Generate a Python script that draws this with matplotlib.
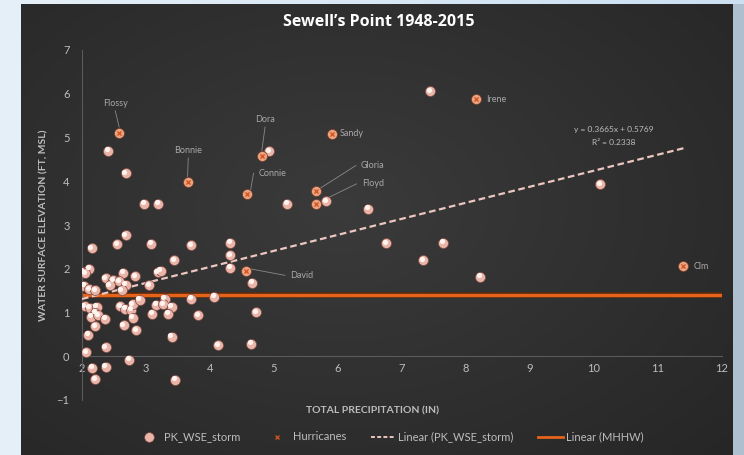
import numpy as np
import matplotlib
matplotlib.use('Agg')
import matplotlib.pyplot as plt
import matplotlib.transforms as mtransforms
from matplotlib.lines import Line2D
from matplotlib.patches import Rectangle

# ─── DATA ──────────────────────────────────────────────────────────────────────
storm_precip = [2.68, 2.15, 2.55, 3.08, 3.70, 3.44, 2.00, 2.11, 2.05, 2.64,
                2.83, 2.37, 2.49, 2.58, 2.68, 2.43, 2.62, 3.18, 3.23, 3.05,
                2.03, 2.11, 2.20, 2.04, 2.12, 2.23, 2.20, 2.14, 2.25, 2.36,
                2.21, 2.60, 2.67, 2.77, 2.79, 2.90, 2.79, 2.65, 2.84, 3.16,
                3.29, 3.27, 3.40, 3.10, 3.34, 3.71, 3.82, 3.40, 2.10, 2.37,
                2.06, 2.74, 2.16, 2.37, 2.20, 3.45, 4.32, 4.32, 4.31, 4.66,
                4.06, 4.72, 4.13, 4.64, 2.41, 2.68, 2.97, 3.19, 4.92, 7.44,
                5.81, 5.20, 6.47, 6.75, 7.64, 7.33, 10.09, 8.22]
storm_wse = [2.77, 2.47, 2.56, 2.57, 2.54, 2.19, 1.93, 2.00, 1.90, 1.91,
             1.83, 1.78, 1.74, 1.71, 1.64, 1.63, 1.51, 1.92, 1.96, 1.63,
             1.61, 1.53, 1.51, 1.15, 1.11, 1.13, 1.00, 0.90, 0.94, 0.86,
             0.69, 1.15, 1.09, 1.06, 1.19, 1.29, 0.88, 0.71, 0.60, 1.18,
             1.32, 1.19, 1.13, 0.97, 0.97, 1.32, 0.94, 0.45, 0.49, 0.21,
             0.09, -0.08, -0.26, -0.24, -0.53, -0.54, 2.60, 2.31, 2.02, 1.68,
             1.36, 1.01, 0.25, 0.29, 4.70, 4.19, 3.49, 3.49, 4.69, 6.06,
             3.55, 3.49, 3.37, 2.58, 2.60, 2.20, 3.93, 1.82]

hurr_names = ["Flossy", "Bonnie", "Dora", "Connie", "Sandy", "Gloria",
              "Floyd", "Irene", "Clm", "David"]
hurr_precip = [2.58, 3.65, 4.81, 4.58, 5.90, 5.65, 5.65, 8.16, 11.39, 4.57]
hurr_wse = [5.11, 3.98, 4.57, 3.71, 5.09, 3.77, 3.47, 5.88, 2.06, 1.95]
# label anchor (x, y) and alignment for each hurricane
label_x = [2.52, 3.66, 4.86, 4.76, 6.03, 6.36, 6.37, 8.31, 11.55, 5.25]
label_y = [5.78, 4.70, 5.41, 4.18, 5.09, 4.36, 3.94, 5.87, 2.06, 1.85]
label_ha = ["center", "center", "center", "left", "left", "left", "left",
            "left", "left", "left"]
leader = [True, True, True, True, False, True, True, False, False, True]

trend_slope, trend_icpt = 0.3665, 0.5769
trend_r2 = 0.2338
trend_x = [2.0, 11.4]
mhhw = 1.40
mhhw_x = [2.0, 12.0]

# ─── STYLE ─────────────────────────────────────────────────────────────────────
FONT = ['Lato', 'DejaVu Sans']
TXT = '#bdbdbd'
PINK = '#eab4a8'
ORANGE = '#e5641a'

fig = plt.figure(figsize=(7.44, 4.55), dpi=100)

# background: light blue frame + dark vignetted panel
bg = fig.add_axes([0, 0, 1, 1], zorder=-10)
bg.set_xlim(0, 744); bg.set_ylim(455, 0); bg.axis('off')
gx = np.linspace(0, 1, 200)
blue = np.ones((2, 200, 3))
blue[..., 0] = 0.80 + 0.10 * (1 - gx)
blue[..., 1] = 0.88 + 0.06 * (1 - gx)
blue[..., 2] = 0.95 + 0.02 * (1 - gx)
bg.imshow(blue, extent=[0, 744, 455, 0], aspect='auto')
yy, xx = np.mgrid[0:1:200j, 0:1:300j]
r = np.sqrt(((xx - 0.45) / 0.75) ** 2 + ((yy - 0.45) / 0.8) ** 2)
v = np.clip(0.23 - 0.08 * r, 0.12, 0.25)
dark = np.dstack([v, v, v])
bg.imshow(dark, extent=[21, 733, 455, 4], aspect='auto')
bg.add_patch(Rectangle((733, 4), 11, 451, color='#aebfd0', lw=0))

ax = fig.add_axes([82 / 744, 1 - 400 / 455, 640 / 744, 350 / 455])
ax.set_facecolor('none')
ax.set_xlim(2, 12)
ax.set_ylim(-1, 7)
for s in ['top', 'right']:
    ax.spines[s].set_visible(False)
ax.spines['left'].set_color('#5a5a5a')
ax.spines['bottom'].set_color('#5a5a5a')
ax.spines['bottom'].set_position(('data', 0))
ax.spines['left'].set_linewidth(0.8)
ax.spines['bottom'].set_linewidth(0.8)
ax.set_xticks(range(2, 13))
ax.set_yticks(range(-1, 8))
ax.tick_params(axis='both', length=0, colors=TXT, labelsize=8)
ax.tick_params(axis='x', pad=5)
ax.tick_params(axis='y', pad=9)
for lbl in ax.get_xticklabels() + ax.get_yticklabels():
    lbl.set_family(FONT)

# MHHW line
ax.plot(mhhw_x, [mhhw, mhhw], color='#5a2a10', lw=4.0, solid_capstyle='butt', zorder=2)
ax.plot(mhhw_x, [mhhw, mhhw], color=ORANGE, lw=2.4, solid_capstyle='butt', zorder=2.1)

# trendline
ty = [trend_slope * x + trend_icpt for x in trend_x]
ax.plot(trend_x, ty, color='#ecc6c0', lw=1.6, ls=(0, (3, 1.6)), zorder=3)
ax.text(10.31, 5.18, f"y = {trend_slope}x + {trend_icpt}", color=TXT,
        fontsize=6, ha='center', va='center', family=FONT)
ax.text(10.31, 4.89, f"R² = {trend_r2}", color=TXT,
        fontsize=6, ha='center', va='center', family=FONT)

# sphere-like markers
hl = mtransforms.offset_copy(ax.transData, fig=fig, x=-0.9, y=1.0, units='points')
ax.scatter(storm_precip, storm_wse, s=52, color=PINK, edgecolor='#7a4a42',
           linewidth=0.5, zorder=4)
ax.scatter(storm_precip, storm_wse, s=14, color='#fff3ef', linewidth=0,
           zorder=4.1, transform=hl)

ax.scatter(hurr_precip, hurr_wse, s=52, color='#e9a386', edgecolor='#7a3a20',
           linewidth=0.5, zorder=5)
ax.scatter(hurr_precip, hurr_wse, s=9, color='#d9581e', marker='x',
           linewidth=1.0, zorder=5.1)

# hurricane labels
for name, hx, hy, lx, ly, ha, ld in zip(hurr_names, hurr_precip, hurr_wse,
                                        label_x, label_y, label_ha, leader):
    ax.text(lx, ly, name, color='#a8a8a8', fontsize=6.5, ha=ha, va='center',
            family=FONT, zorder=6)
    if ld:
        if ha == 'center':
            ax.plot([lx, hx], [ly - 0.17, hy + 0.13], color='#8a8a8a', lw=0.6)
        else:
            ax.plot([hx + 0.05, lx - 0.08], [hy + 0.05, ly], color='#8a8a8a', lw=0.6)

# titles and axis labels
fig.text(379 / 744, 1 - 22 / 455, "Sewell’s Point 1948-2015", color='white',
         fontsize=11.5, fontweight='bold', ha='center', va='center',
         family=['Open Sans', 'DejaVu Sans'])
fig.text(372 / 744, 1 - 411 / 455, "TOTAL PRECIPITATION (IN)", color=TXT,
         fontsize=7.5, fontweight='bold', ha='center', va='center', family=FONT)
fig.text(44 / 744, 1 - 225 / 455, "WATER SURFACE ELEVATION (FT, MSL)", color=TXT,
         fontsize=7.5, fontweight='bold', ha='center', va='center',
         rotation=90, family=FONT)

# legend
handles = [
    Line2D([], [], ls='none', marker='o', ms=7, mfc=PINK, mec='#7a4a42', mew=0.5),
    Line2D([], [], ls='none', marker='x', ms=3.5, mec='#c8501e', mew=1.0),
    Line2D([], [], color='#ecc6c0', lw=1.4, ls=(0, (2, 1.2))),
    Line2D([], [], color=ORANGE, lw=2),
]
labels = ["PK_WSE_storm", "Hurricanes", "Linear (PK_WSE_storm)", "Linear (MHHW)"]
leg = fig.legend(handles, labels, loc='center', ncol=4, frameon=False,
                 bbox_to_anchor=(390 / 744, 1 - 437 / 455),
                 prop={'family': FONT, 'size': 8}, labelcolor=TXT,
                 handlelength=2.2, columnspacing=2.2, handletextpad=0.3)

fig.savefig("out.png", dpi=100)
